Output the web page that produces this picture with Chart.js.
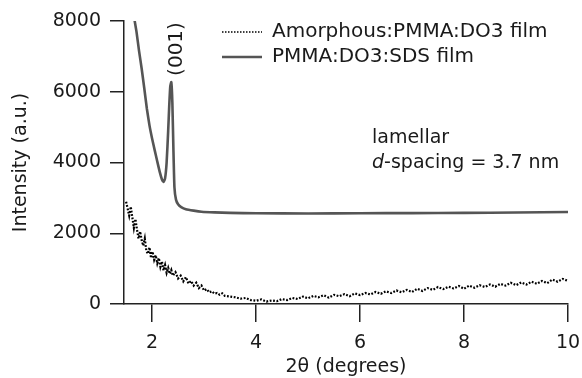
<!DOCTYPE html>
<html>
<head>
<meta charset="utf-8">
<script src="https://cdn.jsdelivr.net/npm/chart.js@4"></script>
<style>
  html, body { margin: 0; padding: 0; background: #fff; }
  #xrdChart { display: block; }
</style>
</head>
<body>
<canvas id="xrdChart" width="582" height="378"></canvas>
<script>
// 2-theta positions and intensities
const amorphousX = [
  1.50, 1.53, 1.56, 1.59, 1.62, 1.65, 1.68, 1.71, 1.74, 1.77,
  1.80, 1.83, 1.86, 1.89, 1.92, 1.95, 1.98, 2.01, 2.04, 2.07,
  2.10, 2.13, 2.16, 2.19, 2.22, 2.25, 2.28, 2.31, 2.34, 2.37,
  2.40, 2.45, 2.50, 2.55, 2.60, 2.65, 2.70, 2.75, 2.80, 2.85,
  2.90, 2.95, 3.00, 3.05, 3.10, 3.15, 3.20, 3.25, 3.30, 3.35,
  3.4, 3.5, 3.6, 3.7, 3.8, 3.9,
  4.0, 4.1, 4.2, 4.3, 4.4, 4.5, 4.6, 4.7, 4.8, 4.9,
  5.0, 5.1, 5.2, 5.3, 5.4, 5.5, 5.6, 5.7, 5.8, 5.9,
  6.0, 6.1, 6.2, 6.3, 6.4, 6.5, 6.6, 6.7, 6.8, 6.9,
  7.0, 7.1, 7.2, 7.3, 7.4, 7.5, 7.6, 7.7, 7.8, 7.9,
  8.0, 8.1, 8.2, 8.3, 8.4, 8.5, 8.6, 8.7, 8.8, 8.9,
  9.0, 9.1, 9.2, 9.3, 9.4, 9.5, 9.6, 9.7, 9.8, 9.9, 10.0
];
const amorphousY = [
  2890, 2700, 2500, 2750, 2450, 2150, 2400, 2100, 1850, 2050,
  1800, 1650, 1850, 1500, 1420, 1600, 1300, 1480, 1250, 1380,
  1150, 1300, 1050, 1200, 950, 1100, 880, 1020, 850, 960,
  800, 900, 720, 800, 640, 760, 580, 650, 520, 600,
  450, 520, 380, 420, 330, 360, 290, 310, 260, 300,
  230, 210, 190, 150, 170, 110,
  90, 130, 70, 100, 80, 140, 110, 170, 140, 210,
  160, 230, 190, 250, 180, 260, 220, 280, 220, 300,
  250, 310, 270, 340, 290, 360, 310, 380, 330, 400,
  340, 430, 370, 450, 400, 480, 420, 490, 440, 510,
  430, 520, 460, 530, 480, 550, 490, 570, 520, 600,
  530, 610, 550, 630, 570, 650, 590, 690, 630, 710, 650
];

const sdsX = [
  1.66, 1.70, 1.75, 1.80, 1.85, 1.90, 1.95, 2.00, 2.05, 2.10,
  2.15, 2.19, 2.22, 2.25, 2.28, 2.31, 2.33, 2.35, 2.37, 2.39,
  2.41, 2.43, 2.46, 2.50, 2.56, 2.65, 2.80, 2.95, 3.2, 3.5,
  4.0, 5.0, 6.0, 7.0, 8.0, 9.0, 10.0
];
const sdsY = [
  8050, 7700, 7150, 6650, 6100, 5520, 5050, 4680, 4350, 4030,
  3720, 3520, 3450, 3550, 4000, 4900, 5600, 6150, 6270, 5700,
  4400, 3300, 2950, 2820, 2740, 2680, 2640, 2610, 2590, 2575,
  2565, 2560, 2565, 2570, 2575, 2585, 2600
];

const xTicks = [2, 4, 6, 8, 10];
const seriesNames = ["Amorphous:PMMA:DO3 film", "PMMA:DO3:SDS film"];

const FONT = "'DejaVu Sans', sans-serif";
const INK = "#1a1a1a";

const toPoints = (xs, ys) => xs.map((x, i) => ({ x: x, y: ys[i] }));

// legend + text labels drawn on top of the plot
const notes = {
  id: "notes",
  afterDraw(chart) {
    const c = chart.ctx;
    const ds = chart.data.datasets;
    c.save();
    c.fillStyle = INK;
    c.textBaseline = "middle";
    c.font = "20px " + FONT;

    // legend
    const rows = [32, 57];
    rows.forEach((y, i) => {
      c.save();
      c.strokeStyle = ds[i].borderColor;
      c.lineWidth = i === 0 ? 1.6 : ds[i].borderWidth;
      c.setLineDash(i === 0 ? [1.5, 1.5] : []);
      c.beginPath();
      c.moveTo(222, y);
      c.lineTo(262, y);
      c.stroke();
      c.restore();
      c.textAlign = "left";
      c.fillText(seriesNames[i], 272, y);
    });

    // peak label
    c.save();
    c.translate(177, 49);
    c.rotate(-Math.PI / 2);
    c.textAlign = "center";
    c.fillText("(001)", 0, 0);
    c.restore();

    // lamellar note
    c.font = "19px " + FONT;
    c.textAlign = "left";
    c.fillText("lamellar", 372, 138);
    c.font = "italic 19px " + FONT;
    c.fillText("d", 372, 163);
    const w = c.measureText("d").width;
    c.font = "19px " + FONT;
    c.fillText("-spacing = 3.7 nm", 372 + w, 163);
    c.restore();
  }
};

const ctx = document.getElementById("xrdChart").getContext("2d");
const xrdChart = new Chart(ctx, {
  type: "line",
  data: {
    datasets: [
      {
        label: seriesNames[0],
        data: toPoints(amorphousX, amorphousY),
        borderColor: "#000",
        borderWidth: 2.2,
        borderDash: [1.8, 1.6],
        pointRadius: 0,
        tension: 0,
      },
      {
        label: seriesNames[1],
        data: toPoints(sdsX, sdsY),
        borderColor: "#555",
        borderWidth: 2.6,
        pointRadius: 0,
        tension: 0.15,
      },
    ],
  },
  options: {
    responsive: false,
    animation: false,
    layout: { padding: { top: 21, right: 14, left: 0, bottom: 0 } },
    plugins: {
      legend: { display: false },
      tooltip: { enabled: false },
    },
    scales: {
      x: {
        type: "linear",
        min: 1.46,
        max: 10,
        afterBuildTicks: (scale) => {
          scale.ticks = xTicks.map((v) => ({ value: v }));
        },
        afterFit: (scale) => {
          scale.height = 74;
          scale.paddingLeft = 0;
          scale.paddingRight = 0;
        },
        border: { display: true, color: "#222", width: 1.5 },
        grid: { drawOnChartArea: false, color: "#222", tickLength: 18, lineWidth: 1.5 },
        ticks: { color: INK, font: { family: FONT, size: 19 }, padding: 10, maxRotation: 0 },
        title: {
          display: true,
          text: "2θ (degrees)",
          color: INK,
          font: { family: FONT, size: 19 },
          padding: { top: 0, bottom: 0 },
        },
      },
      y: {
        min: 0,
        max: 8000,
        afterFit: (scale) => { scale.width = 124; },
        border: { display: true, color: "#222", width: 1.5 },
        grid: { drawOnChartArea: false, color: "#222", tickLength: 14, lineWidth: 1.5 },
        ticks: {
          stepSize: 2000,
          color: INK,
          font: { family: FONT, size: 19 },
          padding: 9,
          callback: (v) => String(v),
        },
        title: {
          display: true,
          text: "Intensity (a.u.)",
          color: INK,
          font: { family: FONT, size: 19 },
          padding: { top: 10, bottom: 0 },
        },
      },
    },
  },
  plugins: [notes],
});
</script>
</body>
</html>
